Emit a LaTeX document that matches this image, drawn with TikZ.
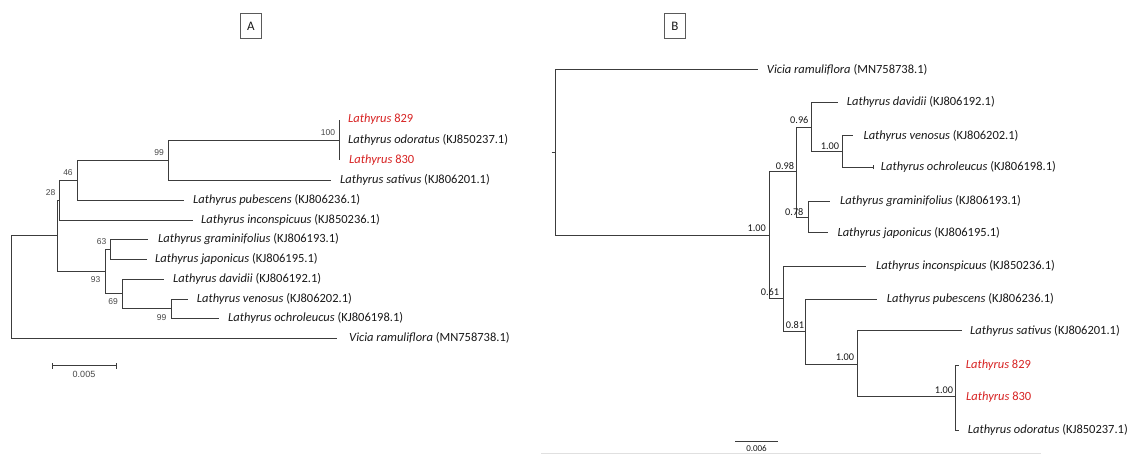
\documentclass[tikz,border=0pt]{standalone}
\usepackage{fontspec}
\setmainfont{Carlito}
\newfontfamily\arialf{Liberation Sans}
\definecolor{linegray}{RGB}{60,60,60}
\definecolor{txt}{RGB}{25,25,25}
\definecolor{labred}{RGB}{215,35,35}
\definecolor{bsgray}{RGB}{70,70,70}
\definecolor{boxgray}{RGB}{90,90,90}
\begin{document}
\begin{tikzpicture}[x=1pt,y=-1pt,
  br/.style={draw=linegray, line width=1pt},
  tax/.style={anchor=west, inner sep=0pt, text=txt, font=\fontsize{12.5}{14}\selectfont},
  redtax/.style={tax, text=labred},
  bsA/.style={inner sep=0pt, text=bsgray, font=\arialf\fontsize{8.5}{9}\selectfont},
  bsB/.style={inner sep=0pt, text=txt, font=\fontsize{10.3}{12}\selectfont},
  panel/.style={draw=boxgray, line width=0.8pt, minimum width=21pt, minimum height=25pt, inner sep=0pt, text=txt, font=\fontsize{13}{15}\selectfont},
  scl/.style={inner sep=0pt, text=bsgray, font=\arialf\fontsize{9}{10}\selectfont}]
\useasboundingbox (0,0) rectangle (1131,454);

% ---------------- panel labels
\node[panel] (boxA) at (251,26) {A};
\node[panel] (boxB) at (675,26.3) {B};

% ================= Tree A =================
\coordinate (rA) at (11.5,286.5);
\coordinate (nAin) at (57.5,235.5);
\coordinate (nA28) at (59.5,200.5);
\coordinate (nA46) at (77.5,180.5);
\coordinate (nA99) at (168.5,160.5);
\coordinate (nA100) at (339.5,140.5);
\coordinate (nA93) at (105.5,271.5);
\coordinate (nA63) at (110.5,249.5);
\coordinate (nA69) at (122.5,293.5);
\coordinate (nA99b) at (171.5,308.5);
% tips
\coordinate (tA829) at (339.5,120.5);
\coordinate (tAodo) at (339.5,140.5);
\coordinate (tA830) at (339.5,160.5);
\coordinate (tAsat) at (331,180.5);
\coordinate (tApub) at (184,200.5);
\coordinate (tAinc) at (193,220.5);
\coordinate (tAgra) at (148,239.5);
\coordinate (tAjap) at (147,259.5);
\coordinate (tAdav) at (164,279.5);
\coordinate (tAven) at (188,299.5);
\coordinate (tAoch) at (219,318.5);
\coordinate (tAvic) at (337,338.5);

\draw[br] (rA) |- (nAin);
\draw[br] (rA) |- (tAvic);
\draw[br] (nAin) |- (nA28);
\draw[br] (nAin) |- (nA93);
\draw[br] (nA28) |- (nA46);
\draw[br] (nA28) |- (tAinc);
\draw[br] (nA46) |- (nA99);
\draw[br] (nA46) |- (tApub);
\draw[br] (nA99) |- (nA100);
\draw[br] (nA99) |- (tAsat);
\draw[br] (nA100) |- (tA829);
\draw[br] (nA100) |- (tA830);
\draw[br] (nA93) |- (nA63);
\draw[br] (nA93) |- (nA69);
\draw[br] (nA63) |- (tAgra);
\draw[br] (nA63) |- (tAjap);
\draw[br] (nA69) |- (tAdav);
\draw[br] (nA69) |- (nA99b);
\draw[br] (nA99b) |- (tAven);
\draw[br] (nA99b) |- (tAoch);

\node[redtax] (lA829) at (348,119) {\textit{Lathyrus} 829};
\node[tax] (lAodo) at (348,140) {\textit{Lathyrus odoratus} (KJ850237.1)};
\node[redtax] (lA830) at (349,160) {\textit{Lathyrus} 830};
\node[tax] (lAsat) at (340,180) {\textit{Lathyrus sativus} (KJ806201.1)};
\node[tax] (lApub) at (193,200) {\textit{Lathyrus pubescens} (KJ806236.1)};
\node[tax] (lAinc) at (201,219.5) {\textit{Lathyrus inconspicuus} (KJ850236.1)};
\node[tax] (lAgra) at (158,239) {\textit{Lathyrus graminifolius} (KJ806193.1)};
\node[tax] (lAjap) at (155,258.5) {\textit{Lathyrus japonicus} (KJ806195.1)};
\node[tax] (lAdav) at (173,279) {\textit{Lathyrus davidii} (KJ806192.1)};
\node[tax] (lAven) at (196.7,298.5) {\textit{Lathyrus venosus} (KJ806202.1)};
\node[tax] (lAoch) at (228,318) {\textit{Lathyrus ochroleucus} (KJ806198.1)};
\node[tax] (lAvic) at (349,338) {\textit{Vicia ramuliflora} (MN758738.1)};

\node[bsA] (bA100) at (328,132.7) {100};
\node[bsA] (bA99) at (159,152.7) {99};
\node[bsA] (bA46) at (68,172.7) {46};
\node[bsA] (bA28) at (50.7,192.7) {28};
\node[bsA] (bA63) at (101.7,241.7) {63};
\node[bsA] (bA93) at (95.7,280) {93};
\node[bsA] (bA69) at (113,301.7) {69};
\node[bsA] (bA99b) at (161.7,317.7) {99};

% scale bar A
\coordinate (sAl) at (52.5,365.5);
\coordinate (sAr) at (116.5,365.5);
\draw[br] (sAl) -- (sAr);
\draw[br] ([yshift=-3pt]sAl) -- ([yshift=3pt]sAl);
\draw[br] ([yshift=-3pt]sAr) -- ([yshift=3pt]sAr);
\node[scl] (sAt) at (84,374.5) {0.005};

% ================= Tree B =================
\coordinate (sB) at (551.5,152.5);
\coordinate (rB) at (555.5,152.5);
\coordinate (nB100) at (769.5,235.5);
\coordinate (nB98) at (796.5,171.5);
\coordinate (nB96) at (811.5,127.5);
\coordinate (nBvo) at (842.5,151.5);
\coordinate (nB78) at (808.5,217.5);
\coordinate (nB61) at (783.5,298.5);
\coordinate (nB81) at (805.5,331.5);
\coordinate (nBs) at (857.5,364.5);
\coordinate (nBt) at (955.5,396.5);
% tips
\coordinate (tBvic) at (758,69.5);
\coordinate (tBdav) at (838,102.5);
\coordinate (tBven) at (853,135.5);
\coordinate (tBoch) at (873.5,167.5);
\coordinate (tBgra) at (830,201.5);
\coordinate (tBjap) at (828,232.5);
\coordinate (tBinc) at (866,266.5);
\coordinate (tBpub) at (877,299.5);
\coordinate (tBsat) at (962,330.5);
\coordinate (tB829) at (958.5,365.5);
\coordinate (tB830) at (955.5,396.5);
\coordinate (tBodo) at (958.5,430.5);

\draw[br] (sB) -- (rB);
\draw[br] (rB) |- (tBvic);
\draw[br] (rB) |- (nB100);
\draw[br] (nB100) |- (nB98);
\draw[br] (nB100) |- (nB61);
\draw[br] (nB98) |- (nB96);
\draw[br] (nB98) |- (nB78);
\draw[br] (nB96) |- (tBdav);
\draw[br] (nB96) |- (nBvo);
\draw[br] (nBvo) |- (tBven);
\draw[br] (nBvo) |- (tBoch);
\draw[br] ([yshift=-2pt]tBoch) -- ([yshift=2pt]tBoch);
\draw[br] (nB78) |- (tBgra);
\draw[br] (nB78) |- (tBjap);
\draw[br] (nB61) |- (tBinc);
\draw[br] (nB61) |- (nB81);
\draw[br] (nB81) |- (tBpub);
\draw[br] (nB81) |- (nBs);
\draw[br] (nBs) |- (tBsat);
\draw[br] (nBs) |- (nBt);
\draw[br] (nBt) |- (tB829);
\draw[br] (nBt) |- (tBodo);

\node[tax] (lBvic) at (766.7,69.3) {\textit{Vicia ramuliflora} (MN758738.1)};
\node[tax] (lBdav) at (846.7,102.3) {\textit{Lathyrus davidii} (KJ806192.1)};
\node[tax] (lBven) at (863.3,135.7) {\textit{Lathyrus venosus} (KJ806202.1)};
\node[tax] (lBoch) at (880.7,167.3) {\textit{Lathyrus ochroleucus} (KJ806198.1)};
\node[tax] (lBgra) at (840,201) {\textit{Lathyrus graminifolius} (KJ806193.1)};
\node[tax] (lBjap) at (837.3,232.7) {\textit{Lathyrus japonicus} (KJ806195.1)};
\node[tax] (lBinc) at (876,266) {\textit{Lathyrus inconspicuus} (KJ850236.1)};
\node[tax] (lBpub) at (886.7,299) {\textit{Lathyrus pubescens} (KJ806236.1)};
\node[tax] (lBsat) at (970,330.7) {\textit{Lathyrus sativus} (KJ806201.1)};
\node[redtax] (lB829) at (965.7,365) {\textit{Lathyrus} 829};
\node[redtax] (lB830) at (966,396.7) {\textit{Lathyrus} 830};
\node[tax] (lBodo) at (967.7,430) {\textit{Lathyrus odoratus} (KJ850237.1)};

\node[bsB] (bB100) at (756.7,228.3) {1.00};
\node[bsB] (bB98) at (785,166) {0.98};
\node[bsB] (bB96) at (799.3,120) {0.96};
\node[bsB] (bBvo) at (830,146) {1.00};
\node[bsB] (bB78) at (794.3,211.7) {0.78};
\node[bsB] (bB61) at (770,291.7) {0.61};
\node[bsB] (bB81) at (795,325) {0.81};
\node[bsB] (bBs) at (845,357.3) {1.00};
\node[bsB] (bBt) at (944,390) {1.00};

% scale bar B
\coordinate (sBl) at (735,441.5);
\coordinate (sBr) at (778,441.5);
\draw[br] (sBl) -- (sBr);
\node[bsB, font=\fontsize{9}{10}\selectfont] (sBt) at (756.5,448) {0.006};
\coordinate (fl) at (541,453.3);
\coordinate (fr) at (1041,453.3);
\draw[black!12, line width=0.8pt] (fl) -- (fr);
\end{tikzpicture}
\end{document}
